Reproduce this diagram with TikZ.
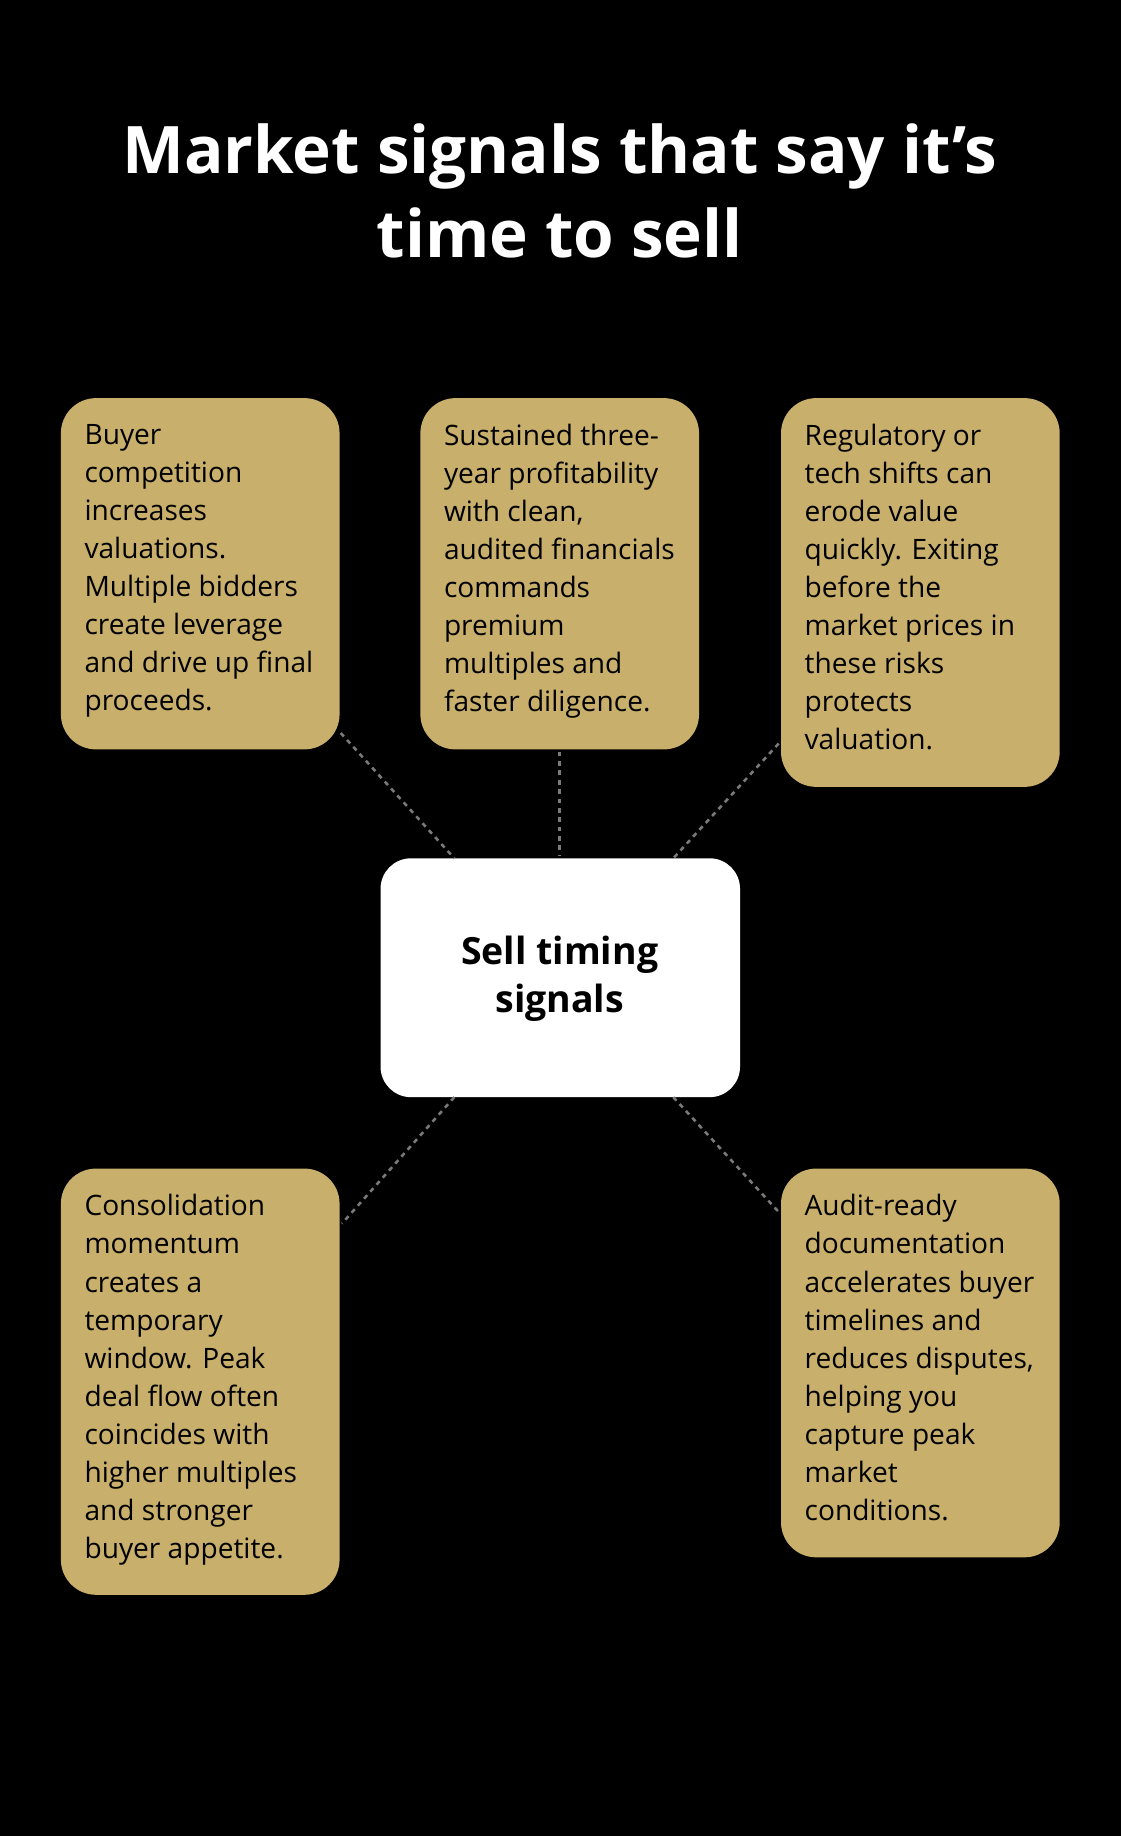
\documentclass[tikz,border=0pt]{standalone}
\usepackage{fontspec}
\setmainfont{Open Sans}
\definecolor{gold}{HTML}{C8AF6B}
\definecolor{dash}{HTML}{7A7A7A}
\begin{document}
\begin{tikzpicture}[x=1pt,y=-1pt,
  card/.style={fill=gold,rounded corners=30pt,draw=none},
  txt/.style={anchor=north west,inner sep=0pt,align=left,font=\fontsize{24}{32.5}\selectfont,text=black},
  link/.style={draw=dash,line width=2.2pt,dash pattern=on 4pt off 4pt}]
\fill[black] (0,0) rectangle (957,1568);
\node[text=white,align=center,font=\fontsize{56}{72}\selectfont\bfseries] (title) at (478,163) {Market signals that say it’s\\time to sell};
\fill[card] (52,340) rectangle (290,640);
\fill[card] (359,340) rectangle (597,640);
\fill[card] (667,340) rectangle (905,672);
\fill[card] (52,998) rectangle (290,1362);
\fill[card] (667,998) rectangle (905,1330);
\fill[white,rounded corners=26pt] (325,733) rectangle (632,937);
\node[txt] (a) at (72,362) {Buyer\\competition\\increases\\valuations.\\Multiple bidders\\create leverage\\and drive up final\\proceeds.};
\node[txt] (b) at (379,362) {Sustained three-\\year profitability\\with clean,\\audited financials\\commands\\premium\\multiples and\\faster diligence.};
\node[txt] (c) at (687,362) {Regulatory or\\tech shifts can\\erode value\\quickly. Exiting\\before the\\market prices in\\these risks\\protects\\valuation.};
\node[txt] (d) at (72,1020) {Consolidation\\momentum\\creates a\\temporary\\window. Peak\\deal flow often\\coincides with\\higher multiples\\and stronger\\buyer appetite.};
\node[txt] (e) at (687,1020) {Audit-ready\\documentation\\accelerates buyer\\timelines and\\reduces disputes,\\helping you\\capture peak\\market\\conditions.};
\node[align=center,font=\fontsize{32}{41}\selectfont\bfseries] (center) at (478,836) {Sell timing\\signals};
\coordinate (a1) at (291,626); \coordinate (a2) at (388,733);
\coordinate (b1) at (478,642); \coordinate (b2) at (478,731);
\coordinate (c1) at (665,635); \coordinate (c2) at (575,733);
\coordinate (d1) at (388,937); \coordinate (d2) at (292,1045);
\coordinate (e1) at (575,937); \coordinate (e2) at (665,1035);
\draw[link] (a1)--(a2); \draw[link] (b1)--(b2); \draw[link] (c1)--(c2);
\draw[link] (d1)--(d2); \draw[link] (e1)--(e2);
\end{tikzpicture}
\end{document}
